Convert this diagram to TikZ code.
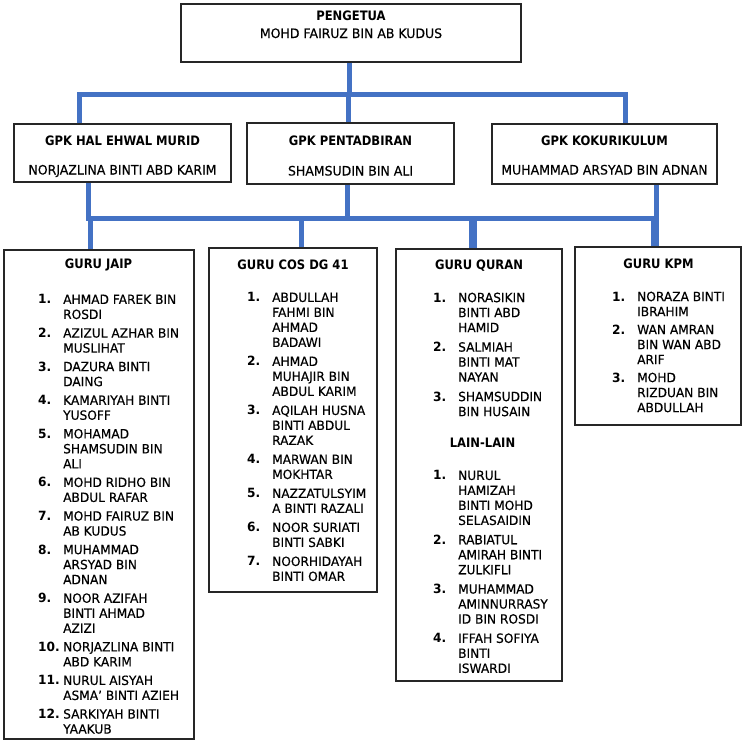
\documentclass[tikz,border=0pt]{standalone}
\usepackage{fontspec}
\setmainfont{DejaVu Sans}[FakeStretch=0.96, UprightFeatures={FakeBold=0.35}]
\newfontfamily\hdfont{DejaVu Sans}[FakeStretch=0.89]
\definecolor{connblue}{HTML}{4472C4}
\newcommand\itm[2]{\makebox[25pt][l]{\textbf{#1}}#2}
\newcommand\cnt[1]{\hspace*{25pt}#1}
\begin{document}
\begin{tikzpicture}[x=1pt,y=-1pt,
  box/.style={draw=black!85, line width=1.1pt, rectangle, inner sep=0},
  conn/.style={draw=connblue, line width=5pt},
  hd/.style={font=\hdfont\bfseries\fontsize{13}{15}\selectfont, inner sep=0, anchor=base},
  nm/.style={font=\fontsize{13}{15}\selectfont, inner sep=0, anchor=base},
  lst/.style={font=\fontsize{12.7}{15}\selectfont, inner sep=0, align=left, anchor=north west}]
\useasboundingbox (0,0) rectangle (743,750);

% boxes
\node[box, minimum width=340pt, minimum height=58pt] (top) at (351,33) {};
\node[box, minimum width=217pt, minimum height=58pt] (hal) at (122.5,153) {};
\node[box, minimum width=207pt, minimum height=61pt] (pen) at (350.5,153.5) {};
\node[box, minimum width=225pt, minimum height=60pt] (kok) at (604.5,154) {};
\node[box, minimum width=190pt, minimum height=489pt] (jaip) at (99,494.5) {};
\node[box, minimum width=168pt, minimum height=344pt] (cos) at (293,420) {};
\node[box, minimum width=166pt, minimum height=432pt] (quran) at (479,465) {};
\node[box, minimum width=166pt, minimum height=178pt] (kpm) at (658,336) {};

% junctions
\coordinate (j0) at (349,94);
\coordinate (j1) at (79,94);
\coordinate (j2) at (348,94);
\coordinate (j3) at (625,94);
\coordinate (k1) at (88,218);
\coordinate (k2) at (347,218);
\coordinate (k3) at (656,218);
\coordinate (m1) at (90,218);
\coordinate (m2) at (301,218);
\coordinate (m3) at (473,218);
\coordinate (m4) at (655,218);

% connectors
\draw[conn] (j0 |- top.south) -- (j0);
\draw[conn, line join=miter] (j1 |- hal.north) -- (j1) -- (j3) -- (j3 |- kok.north);
\draw[conn] (j2) -- (j2 |- pen.north);
\draw[conn, line join=miter] (k1 |- hal.south) -- (k1) -- (k3) -- (k3 |- kok.south);
\draw[conn] (k2 |- pen.south) -- (k2);
\draw[conn] (m1) -- (m1 |- jaip.north);
\draw[conn] (m2) -- (m2 |- cos.north);
\draw[conn, line width=7.5pt] (m3) -- (m3 |- quran.north);
\draw[conn, line width=8.5pt] (m4) -- (m4 |- kpm.north);

% texts top
\node[hd] (topT) at (351,20.5) {PENGETUA};
\node[nm] (topN) at (351,38) {MOHD FAIRUZ BIN AB KUDUS};
\node[hd] (halT) at (122.5,145.5) {GPK HAL EHWAL MURID};
\node[nm] (halN) at (122.5,174.5) {NORJAZLINA BINTI ABD KARIM};
\node[hd] (penT) at (350.5,145.5) {GPK PENTADBIRAN};
\node[nm] (penN) at (350.5,175.5) {SHAMSUDIN BIN ALI};
\node[hd] (kokT) at (604.5,145.5) {GPK KOKURIKULUM};
\node[nm] (kokN) at (604.5,174.5) {MUHAMMAD ARSYAD BIN ADNAN};

% bottom titles
\node[hd] (jaipT) at (98.5,268.5) {GURU JAIP};
\node[hd] (cosT) at (293,269.5) {GURU COS DG 41};
\node[hd] (quranT) at (479,269.5) {GURU QURAN};
\node[hd] (lainT) at (482.5,447.5) {LAIN-LAIN};
\node[hd] (kpmT) at (658.5,268.5) {GURU KPM};

% lists
\node[lst] (jaipL) at (38,294.5) {%
\itm{1.}{AHMAD FAREK BIN}\\ \cnt{ROSDI}\\[3.6pt]
\itm{2.}{AZIZUL AZHAR BIN}\\ \cnt{MUSLIHAT}\\[3.6pt]
\itm{3.}{DAZURA BINTI}\\ \cnt{DAING}\\[3.6pt]
\itm{4.}{KAMARIYAH BINTI}\\ \cnt{YUSOFF}\\[3.6pt]
\itm{5.}{MOHAMAD}\\ \cnt{SHAMSUDIN BIN}\\ \cnt{ALI}\\[3.6pt]
\itm{6.}{MOHD RIDHO BIN}\\ \cnt{ABDUL RAFAR}\\[3.6pt]
\itm{7.}{MOHD FAIRUZ BIN}\\ \cnt{AB KUDUS}\\[3.6pt]
\itm{8.}{MUHAMMAD}\\ \cnt{ARSYAD BIN}\\ \cnt{ADNAN}\\[3.6pt]
\itm{9.}{NOOR AZIFAH}\\ \cnt{BINTI AHMAD}\\ \cnt{AZIZI}\\[3.6pt]
\itm{10.}{NORJAZLINA BINTI}\\ \cnt{ABD KARIM}\\[3.6pt]
\itm{11.}{NURUL AISYAH}\\ \cnt{ASMA' BINTI AZIEH}\\[3.6pt]
\itm{12.}{SARKIYAH BINTI}\\ \cnt{YAAKUB}};

\node[lst] (cosL) at (247,292.5) {%
\itm{1.}{ABDULLAH}\\ \cnt{FAHMI BIN}\\ \cnt{AHMAD}\\ \cnt{BADAWI}\\[4pt]
\itm{2.}{AHMAD}\\ \cnt{MUHAJIR BIN}\\ \cnt{ABDUL KARIM}\\[4pt]
\itm{3.}{AQILAH HUSNA}\\ \cnt{BINTI ABDUL}\\ \cnt{RAZAK}\\[4pt]
\itm{4.}{MARWAN BIN}\\ \cnt{MOKHTAR}\\[4pt]
\itm{5.}{NAZZATULSYIM}\\ \cnt{A BINTI RAZALI}\\[4pt]
\itm{6.}{NOOR SURIATI}\\ \cnt{BINTI SABKI}\\[4pt]
\itm{7.}{NOORHIDAYAH}\\ \cnt{BINTI OMAR}};

\node[lst] (quranL) at (433,292.5) {%
\itm{1.}{NORASIKIN}\\ \cnt{BINTI ABD}\\ \cnt{HAMID}\\[4.5pt]
\itm{2.}{SALMIAH}\\ \cnt{BINTI MAT}\\ \cnt{NAYAN}\\[4.5pt]
\itm{3.}{SHAMSUDDIN}\\ \cnt{BIN HUSAIN}};

\node[lst] (lainL) at (433,470.5) {%
\itm{1.}{NURUL}\\ \cnt{HAMIZAH}\\ \cnt{BINTI MOHD}\\ \cnt{SELASAIDIN}\\[4.3pt]
\itm{2.}{RABIATUL}\\ \cnt{AMIRAH BINTI}\\ \cnt{ZULKIFLI}\\[4.3pt]
\itm{3.}{MUHAMMAD}\\ \cnt{AMINNURRASY}\\ \cnt{ID BIN ROSDI}\\[4.3pt]
\itm{4.}{IFFAH SOFIYA}\\ \cnt{BINTI}\\ \cnt{ISWARDI}};

\node[lst] (kpmL) at (612,291.5) {%
\itm{1.}{NORAZA BINTI}\\ \cnt{IBRAHIM}\\[3pt]
\itm{2.}{WAN AMRAN}\\ \cnt{BIN WAN ABD}\\ \cnt{ARIF}\\[3pt]
\itm{3.}{MOHD}\\ \cnt{RIZDUAN BIN}\\ \cnt{ABDULLAH}};
\end{tikzpicture}
\end{document}
